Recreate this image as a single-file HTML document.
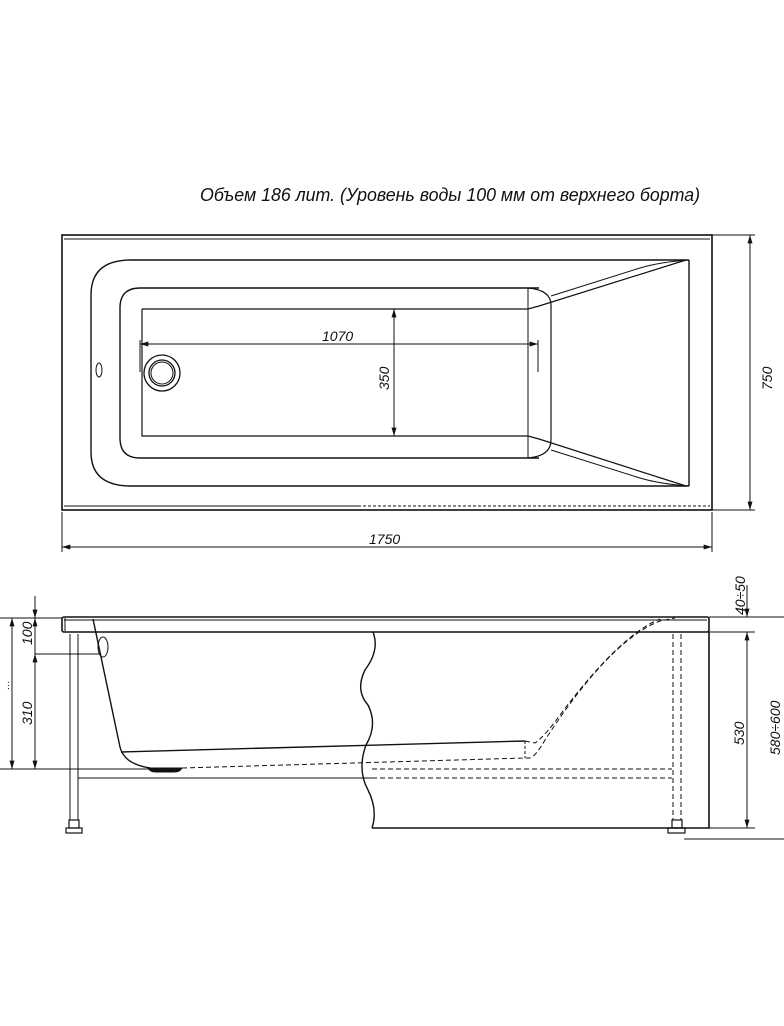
<!DOCTYPE html>
<html><head><meta charset="utf-8"><style>
html,body{margin:0;padding:0;background:#fff;width:784px;height:1026px;overflow:hidden}
svg{display:block}
text{font-family:"Liberation Sans",sans-serif;font-style:italic;fill:#111}
</style></head><body>
<svg width="784" height="1026" viewBox="0 0 784 1026" xmlns="http://www.w3.org/2000/svg" fill="none" stroke="#111" stroke-width="1">
<defs><marker id="a" viewBox="0 0 10 6" refX="10" refY="3" markerWidth="9" markerHeight="5" orient="auto-start-reverse"><path d="M0,0L10,3L0,6z" fill="#111" stroke="none"/></marker></defs>
<text x="200" y="201" font-size="18" textLength="500" lengthAdjust="spacingAndGlyphs" stroke="none">Объем 186 лит. (Уровень воды 100 мм от верхнего борта)</text>
<!-- top view -->
<rect x="62" y="235" width="650" height="275" stroke-width="1.6"/>
<line x1="64" y1="239" x2="710" y2="239"/>
<line x1="64" y1="506" x2="358" y2="506"/>
<line x1="358" y1="506" x2="710" y2="506" stroke-dasharray="3,2"/>
<path d="M689,260 H131 Q91,260 91,295 V452 Q91,486 131,486 H689" stroke-width="1.4"/>
<line x1="689" y1="260" x2="689" y2="486" stroke-width="1.4"/>
<path d="M539,288 H140 Q120,288 120,308 V438 Q120,458 140,458 H539" stroke-width="1.4"/>
<path d="M528,288 Q551,290 551,305 V440 Q551,456 528,458" stroke-width="1.2"/>
<line x1="528" y1="288" x2="528" y2="458"/>
<path d="M142,309 H528 L539,306 L686,260" stroke-width="1.2"/>
<path d="M142,309 V436 H528 L539,439 L686,486" stroke-width="1.2"/>
<path d="M551,296 L640,268 Q660,262 689,260" stroke-width="1"/>
<path d="M551,450 L640,478 Q660,484 689,486" stroke-width="1"/>
<circle cx="162" cy="373" r="18" stroke-width="1.3"/>
<circle cx="162" cy="373" r="13" stroke-width="1.3"/>
<circle cx="162" cy="373" r="11"/>
<ellipse cx="99" cy="370" rx="3" ry="7"/>
<line x1="140" y1="344" x2="538" y2="344" marker-start="url(#a)" marker-end="url(#a)"/>
<line x1="140" y1="340" x2="140" y2="372"/><line x1="538" y1="340" x2="538" y2="372"/>
<text x="322" y="341" font-size="14" stroke="none">1070</text>
<line x1="394" y1="309" x2="394" y2="436" marker-start="url(#a)" marker-end="url(#a)"/>
<text transform="translate(389,390) rotate(-90)" font-size="14" stroke="none">350</text>
<line x1="712" y1="235" x2="755" y2="235"/><line x1="712" y1="510" x2="755" y2="510"/>
<line x1="750" y1="235" x2="750" y2="510" marker-start="url(#a)" marker-end="url(#a)"/>
<text transform="translate(772,390) rotate(-90)" font-size="14" stroke="none">750</text>
<line x1="62" y1="512" x2="62" y2="552"/><line x1="712" y1="512" x2="712" y2="552"/>
<line x1="62" y1="547" x2="712" y2="547" marker-start="url(#a)" marker-end="url(#a)"/>
<text x="369" y="544" font-size="14" stroke="none">1750</text>
<!-- side view -->
<rect x="62" y="617" width="647" height="15" rx="2" stroke-width="1.6"/>
<line x1="64" y1="620" x2="707" y2="620"/>
<line x1="65" y1="618" x2="65" y2="631"/>
<path d="M93,619 L120,747 Q124,764 150,768" stroke-width="1.4"/>
<path d="M148,768 Q150,772 156,772 H174 Q180,772 182,768 Z" fill="#111"/>
<ellipse cx="103" cy="647" rx="5" ry="10"/>
<line x1="121" y1="752" x2="525" y2="741" stroke-width="1.4"/>
<path d="M182,768 L525,758 L530,758 Q536,756 545,740 Q610,640 660,621 L675,618" stroke-dasharray="5,3"/>
<path d="M525,741 L535,743 Q545,736 560,715 Q620,635 660,619" stroke-dasharray="5,3"/>
<line x1="525" y1="741" x2="525" y2="758" stroke-dasharray="3,2"/>
<line x1="372" y1="769" x2="672" y2="769" stroke-dasharray="5,3"/>
<line x1="372" y1="778" x2="672" y2="778" stroke-dasharray="5,3"/>
<line x1="0" y1="769" x2="150" y2="769"/>
<line x1="78" y1="778" x2="372" y2="778"/>
<path d="M373,632 Q380,650 365,670 Q355,690 368,705 Q378,725 366,745 Q357,770 368,790 Q378,810 372,828" stroke-width="1.4"/>
<path d="M372,828 H709 V632" stroke-width="1.6"/>
<line x1="70" y1="634" x2="70" y2="820"/><line x1="78" y1="634" x2="78" y2="820"/>
<rect x="69" y="820" width="10" height="8" stroke-width="1.2"/><rect x="66" y="828" width="16" height="5" stroke-width="1.2"/>
<line x1="673" y1="634" x2="673" y2="820" stroke-dasharray="5,3"/><line x1="681" y1="634" x2="681" y2="820" stroke-dasharray="5,3"/>
<rect x="672" y="820" width="10" height="8" stroke-width="1.2"/><rect x="668" y="828" width="17" height="5" stroke-width="1.2"/>
<!-- left dims -->
<line x1="0" y1="618" x2="62" y2="618"/>
<line x1="35" y1="654" x2="100" y2="654"/>
<line x1="12" y1="618" x2="12" y2="769" marker-start="url(#a)" marker-end="url(#a)"/>
<line x1="35" y1="596" x2="35" y2="618" marker-end="url(#a)"/>
<line x1="35" y1="654" x2="35" y2="618" marker-end="url(#a)"/>
<line x1="35" y1="654" x2="35" y2="769" marker-start="url(#a)" marker-end="url(#a)"/>
<text transform="translate(32,645) rotate(-90)" font-size="14" stroke="none">100</text>
<text transform="translate(32,725) rotate(-90)" font-size="14" stroke="none">310</text>
<text transform="translate(9,690) rotate(-90)" font-size="10" stroke="none">…</text>
<!-- right dims -->
<line x1="709" y1="617" x2="784" y2="617"/>
<line x1="709" y1="632" x2="755" y2="632"/>
<line x1="709" y1="828" x2="755" y2="828"/>
<line x1="684" y1="839" x2="784" y2="839"/>
<line x1="747" y1="585" x2="747" y2="617" marker-end="url(#a)"/>
<line x1="747" y1="632" x2="747" y2="828" marker-start="url(#a)" marker-end="url(#a)"/>
<text transform="translate(745,615) rotate(-90)" font-size="14" stroke="none">40÷50</text>
<text transform="translate(744,745) rotate(-90)" font-size="14" stroke="none">530</text>
<text transform="translate(780,755) rotate(-90)" font-size="14" stroke="none">580÷600</text>
</svg>
</body></html>
